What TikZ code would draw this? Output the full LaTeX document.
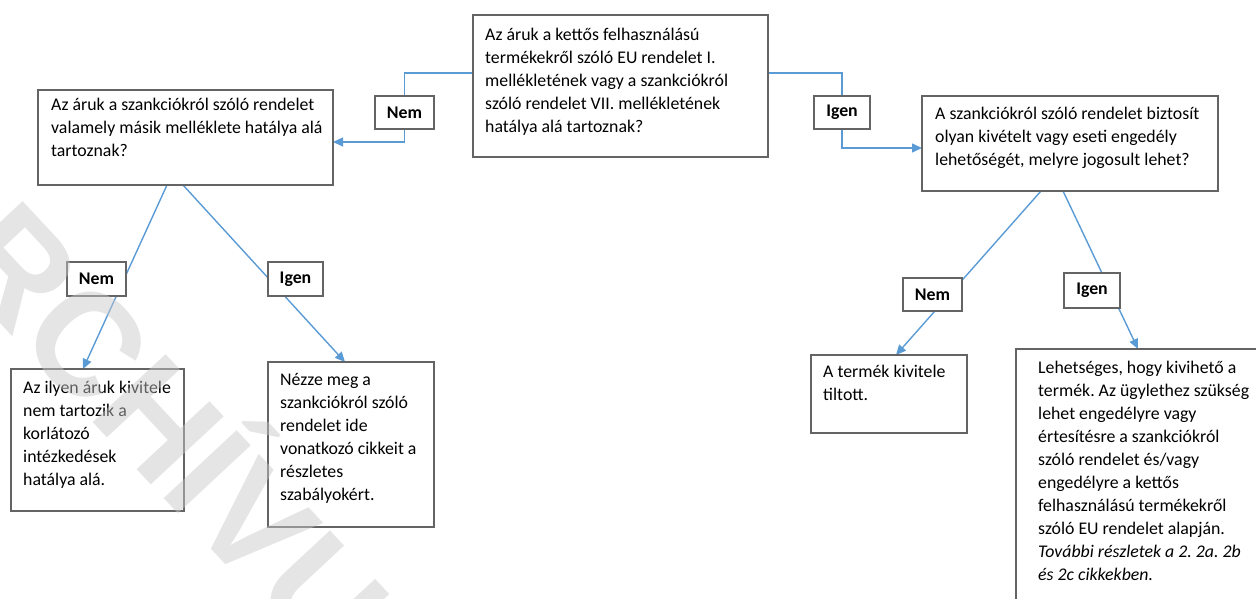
\documentclass[tikz,border=0pt]{standalone}
\usepackage{fontspec}
\setmainfont{Carlito}
\newfontfamily\wmfont{Liberation Sans}
\usetikzlibrary{arrows.meta,calc}
\definecolor{conncol}{RGB}{91,155,213}
\definecolor{boxcol}{RGB}{100,100,100}
\definecolor{wmcol}{RGB}{200,200,200}
\pgfdeclarelayer{bg}
\pgfsetlayers{bg,main}
\frenchspacing
\begin{document}
\begin{tikzpicture}[x=1pt,y=-1pt,
  box/.style={draw=boxcol, line width=1.2pt, fill=white, rectangle, inner sep=0pt, outer sep=0pt, anchor=north west},
  txt/.style={anchor=north west, inner sep=0pt, align=left, font=\fontsize{17.8}{23}\selectfont},
  lab/.style={draw=boxcol, line width=1.2pt, fill=white, inner sep=0pt, outer sep=0pt, font=\fontsize{17.8}{23}\selectfont\bfseries},
  wire/.style={draw=conncol, line width=1.4pt},
  conn/.style={wire, -{Triangle[length=10pt,width=9pt]}}]
\useasboundingbox (0,0) rectangle (1256,599);

% boxes
\node[box, minimum width=295pt, minimum height=142pt] (T) at (473,15) {};
\node[box, minimum width=295pt, minimum height=95pt] (L) at (38,90) {};
\node[box, minimum width=296pt, minimum height=95pt] (R) at (922,96) {};
\node[box, minimum width=173pt, minimum height=142pt] (LL) at (11,369) {};
\node[box, minimum width=166pt, minimum height=165pt] (LR) at (268,362) {};
\node[box, minimum width=156pt, minimum height=78pt] (RL) at (811,355) {};
\node[box, minimum width=300pt, minimum height=300pt] (RR) at (1016,349) {};

% texts
\node[txt] (tT) at ($(T.north west)+(12,9)$) {\strut Az áruk a kettős felhasználású\\ termékekről szóló EU rendelet I.\\ mellékletének vagy a szankciókról\\ szóló rendelet VII. mellékletének\\ hatálya alá tartoznak?};
\node[txt] (tL) at ($(L.north west)+(13,4)$) {\strut Az áruk a szankciókról szóló rendelet\\ valamely másik melléklete hatálya alá\\ tartoznak?};
\node[txt] (tR) at ($(R.north west)+(13,7)$) {\strut A szankciókról szóló rendelet biztosít\\ olyan kivételt vagy eseti engedély\\ lehetőségét, melyre jogosult lehet?};
\node[txt] (tLL) at ($(LL.north west)+(12,8)$) {\strut Az ilyen áruk kivitele\\ nem tartozik a\\ korlátozó\\ intézkedések\\ hatálya alá.};
\node[txt] (tLR) at ($(LR.north west)+(12,7)$) {\strut Nézze meg a\\ szankciókról szóló\\ rendelet ide\\ vonatkozó cikkeit a\\ részletes\\ szabályokért.};
\node[txt] (tRL) at ($(RL.north west)+(12,6)$) {\strut A termék kivitele\\ tiltott.};
\node[txt] (tRR) at ($(RR.north west)+(22,8)$) {\strut Lehetséges, hogy kivihető a\\ termék. Az ügylethez szükség\\ lehet engedélyre vagy\\ értesítésre a szankciókról\\ szóló rendelet és/vagy\\ engedélyre a kettős\\ felhasználású termékekről\\ szóló EU rendelet alapján.\\ \itshape További részletek a 2. 2a. 2b\\ \itshape és 2c cikkekben.};

% labels
\node[lab, minimum width=59pt, minimum height=33pt] (N1) at (404.5,112.5) {Nem};
\node[lab, minimum width=56pt, minimum height=33pt] (I1) at (842,112.5) {Igen};
\node[lab, minimum width=59pt, minimum height=34pt] (N2) at (96.5,279) {Nem};
\node[lab, minimum width=55pt, minimum height=34pt] (I2) at (295.5,279) {Igen};
\node[lab, minimum width=59pt, minimum height=33pt] (N3) at (932.5,294.5) {Nem};
\node[lab, minimum width=56pt, minimum height=35pt] (I3) at (1092,290.5) {Igen};

% connectors
\begin{pgfonlayer}{bg}
\draw[wire] ($(T.north west)+(0,58)$) -| (N1.north);
\draw[conn] (N1.south) |- ($(L.north east)+(0,52)$);
\draw[wire] ($(T.north east)+(0,58)$) -| (I1.north);
\draw[conn] (I1.south) |- ($(R.north west)+(0,52)$);
\draw[conn] ($(L.south west)+(129,0)$) -- ($(LL.north west)+(72,0)$);
\draw[conn] ($(L.south west)+(145,0)$) -- ($(LR.north west)+(77,0)$);
\draw[conn] ($(R.south west)+(119,0)$) -- ($(RL.north west)+(85,0)$);
\draw[conn] ($(R.south west)+(141,0)$) -- ($(RR.north west)+(122,0)$);
\end{pgfonlayer}

% watermark
\node[rotate=-47, text=wmcol, opacity=0.48, inner sep=0pt, font=\wmfont\bfseries\fontsize{145}{145}\selectfont] (wm) at (185,428) {ARCHÍVUM};
\end{tikzpicture}
\end{document}
